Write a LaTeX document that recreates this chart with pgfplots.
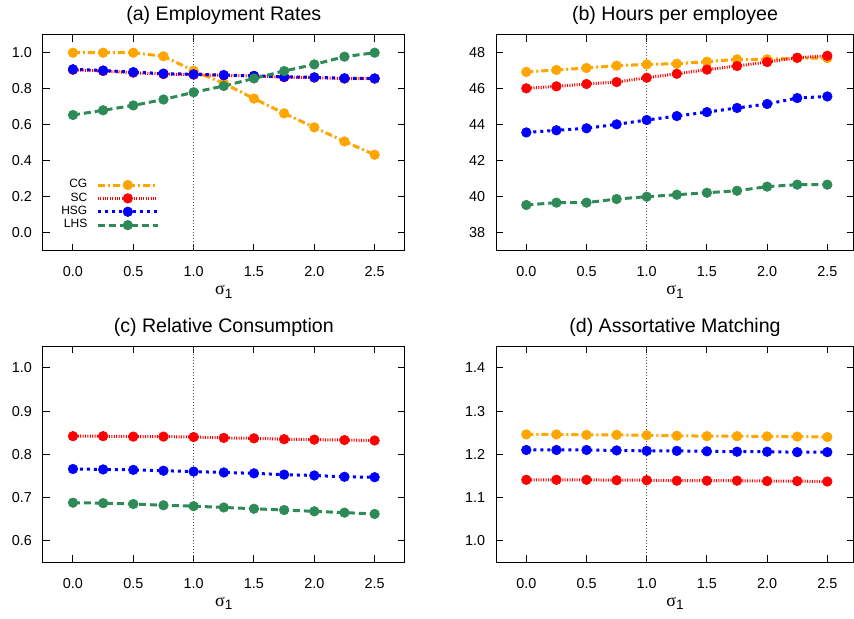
\documentclass[border=0pt]{standalone}
\usepackage{fontspec}
\setmainfont{Liberation Sans}
\newfontfamily\grk{Liberation Serif}
\usepackage{pgfplots}
\pgfplotsset{compat=1.18}
\definecolor{cgc}{HTML}{FFA500}
\definecolor{scc}{HTML}{FF0000}
\definecolor{hsc}{HTML}{0000FF}
\definecolor{lhc}{HTML}{2E8B57}
\newcommand{\sigone}{{\grk σ}\raisebox{-0.35ex}{\fontsize{6.8}{7}\selectfont 1}}
\pgfplotsset{
  onedec/.style={/pgf/number format/fixed, /pgf/number format/fixed zerofill, /pgf/number format/precision=1},
  panel/.style={
    scale only axis, height=108pt,
    xmin=-0.25,
    tick align=inside, tick pos=both, major tick length=3.5pt,
    axis line style={line width=0.6pt}, every tick/.style={line width=0.5pt, black},
    xtick={0,0.5,1,1.5,2,2.5},
    xticklabel style={onedec},
    tick label style={font=\fontsize{7.2}{8}\selectfont},
    /pgf/number format/assume math mode=true,
    xticklabel style={anchor=base, yshift=-13pt},
    yticklabel style={anchor=east, inner sep=0pt, xshift=-5.3pt},
    title style={at={(0.5,1)}, anchor=base, yshift=1pt, font=\fontsize{9.8}{11}\selectfont},
    xlabel={\sigone},
    xlabel style={at={(axis description cs:0.5,0)}, anchor=base, yshift=-22pt, font=\fontsize{9}{10}\selectfont},
    every axis plot/.append style={line width=1.5pt, line cap=butt, mark=*, mark size=2.4pt},
  },
  cg/.style={color=cgc, dash pattern=on 3.5pt off 1.5pt on 1pt off 1.5pt, mark options={solid, fill=cgc, draw=cgc, line width=0.3pt}},
  sc/.style={color=scc, dash pattern=on 0.5pt off 0.7pt, mark options={solid, fill=scc, draw=scc, line width=0.3pt}},
  hs/.style={color=hsc, dash pattern=on 1.5pt off 2pt, mark options={solid, fill=hsc, draw=hsc, line width=0.3pt}},
  lh/.style={color=lhc, dash pattern=on 3.5pt off 2pt, mark options={solid, fill=lhc, draw=lhc, line width=0.3pt}},
  vl/.style={forget plot, mark=none, line width=0.45pt, color=black!70, dash pattern=on 0.5pt off 1pt},
}
\begin{document}
\begin{tikzpicture}
\useasboundingbox (0,0) rectangle (427pt,309pt);
% (a)
\begin{axis}[panel, at={(21.4pt,183.65pt)}, anchor=south west, width=181pt, xmax=2.75,
  ymin=-0.1, ymax=1.1, ytick={0,0.2,0.4,0.6,0.8,1.0},
  yticklabel style={onedec},
  title={(a) Employment Rates},
  legend style={at={(0.323,0.337)}, anchor=north east, draw=none, fill=none,
    font=\fontsize{6}{7}\selectfont, inner sep=0pt, row sep=0pt, column sep=4pt,
    nodes={inner sep=0.5pt}},
  legend cell align=right, legend plot pos=right,
  legend image code/.code={\draw[mark repeat=2, mark phase=2, #1] plot coordinates {(0pt,0pt) (15pt,0pt) (30pt,0pt)};},
]
\addplot[vl] coordinates {(1,-0.1) (1,1.1)};
\addplot[cg] coordinates {(0,1.0) (0.25,1.0) (0.5,1.0) (0.75,0.98) (1,0.90) (1.25,0.83) (1.5,0.745) (1.75,0.663) (2,0.585) (2.25,0.507) (2.5,0.433)};
\addlegendentry{CG}
\addplot[sc] coordinates {(0,0.905) (0.25,0.898) (0.5,0.889) (0.75,0.881) (1,0.878) (1.25,0.874) (1.5,0.871) (1.75,0.864) (2,0.862) (2.25,0.856) (2.5,0.856)};
\addlegendentry{SC}
\addplot[hs] coordinates {(0,0.908) (0.25,0.901) (0.5,0.892) (0.75,0.884) (1,0.880) (1.25,0.876) (1.5,0.871) (1.75,0.866) (2,0.863) (2.25,0.858) (2.5,0.857)};
\addlegendentry{HSG}
\addplot[lh] coordinates {(0,0.654) (0.25,0.680) (0.5,0.707) (0.75,0.740) (1,0.780) (1.25,0.815) (1.5,0.857) (1.75,0.898) (2,0.935) (2.25,0.978) (2.5,1.0)};
\addlegendentry{LHS}
\end{axis}
% (b)
\begin{axis}[panel, at={(248.1pt,183.65pt)}, anchor=south west, width=178.8pt, xmax=2.72,
  ymin=37, ymax=49, ytick={38,40,42,44,46,48},
  title={(b) Hours per employee},
]
\addplot[vl] coordinates {(1,37) (1,49)};
\addplot[cg] coordinates {(0,46.93) (0.25,47.04) (0.5,47.15) (0.75,47.28) (1,47.35) (1.25,47.39) (1.5,47.5) (1.75,47.63) (2,47.63) (2.25,47.7) (2.5,47.7)};
\addplot[sc] coordinates {(0,46.02) (0.25,46.13) (0.5,46.26) (0.75,46.37) (1,46.61) (1.25,46.83) (1.5,47.06) (1.75,47.26) (2,47.48) (2.25,47.72) (2.5,47.83)};
\addplot[hs] coordinates {(0,43.57) (0.25,43.69) (0.5,43.8) (0.75,44.02) (1,44.26) (1.25,44.48) (1.5,44.7) (1.75,44.93) (2,45.15) (2.25,45.48) (2.5,45.57)};
\addplot[lh] coordinates {(0,39.54) (0.25,39.67) (0.5,39.67) (0.75,39.87) (1,40.0) (1.25,40.11) (1.5,40.22) (1.75,40.33) (2,40.56) (2.25,40.67) (2.5,40.67)};
\end{axis}
% (c)
\begin{axis}[panel, at={(21.4pt,27.85pt)}, anchor=south west, width=181pt, xmax=2.75,
  ymin=0.55, ymax=1.05, ytick={0.6,0.7,0.8,0.9,1.0},
  yticklabel style={onedec},
  title={(c) Relative Consumption},
]
\addplot[vl] coordinates {(1,0.55) (1,1.05)};
\addplot[sc] coordinates {(0,0.842) (0.25,0.842) (0.5,0.841) (0.75,0.841) (1,0.840) (1.25,0.838) (1.5,0.837) (1.75,0.835) (2,0.834) (2.25,0.833) (2.5,0.832)};
\addplot[hs] coordinates {(0,0.766) (0.25,0.765) (0.5,0.764) (0.75,0.762) (1,0.760) (1.25,0.758) (1.5,0.756) (1.75,0.753) (2,0.751) (2.25,0.748) (2.5,0.747)};
\addplot[lh] coordinates {(0,0.688) (0.25,0.687) (0.5,0.685) (0.75,0.682) (1,0.680) (1.25,0.677) (1.5,0.674) (1.75,0.671) (2,0.668) (2.25,0.665) (2.5,0.662)};
\end{axis}
% (d)
\begin{axis}[panel, at={(248.1pt,27.85pt)}, anchor=south west, width=178.8pt, xmax=2.72,
  ymin=0.95, ymax=1.45, ytick={1.0,1.1,1.2,1.3,1.4},
  yticklabel style={onedec},
  title={(d) Assortative Matching},
]
\addplot[vl] coordinates {(1,0.95) (1,1.45)};
\addplot[cg] coordinates {(0,1.246) (0.25,1.246) (0.5,1.245) (0.75,1.245) (1,1.244) (1.25,1.243) (1.5,1.242) (1.75,1.242) (2,1.2415) (2.25,1.241) (2.5,1.240)};
\addplot[sc] coordinates {(0,1.141) (0.25,1.141) (0.5,1.141) (0.75,1.140) (1,1.140) (1.25,1.139) (1.5,1.139) (1.75,1.139) (2,1.138) (2.25,1.138) (2.5,1.137)};
\addplot[hs] coordinates {(0,1.210) (0.25,1.210) (0.5,1.210) (0.75,1.209) (1,1.208) (1.25,1.208) (1.5,1.207) (1.75,1.206) (2,1.206) (2.25,1.205) (2.5,1.205)};
\end{axis}
\end{tikzpicture}
\end{document}
